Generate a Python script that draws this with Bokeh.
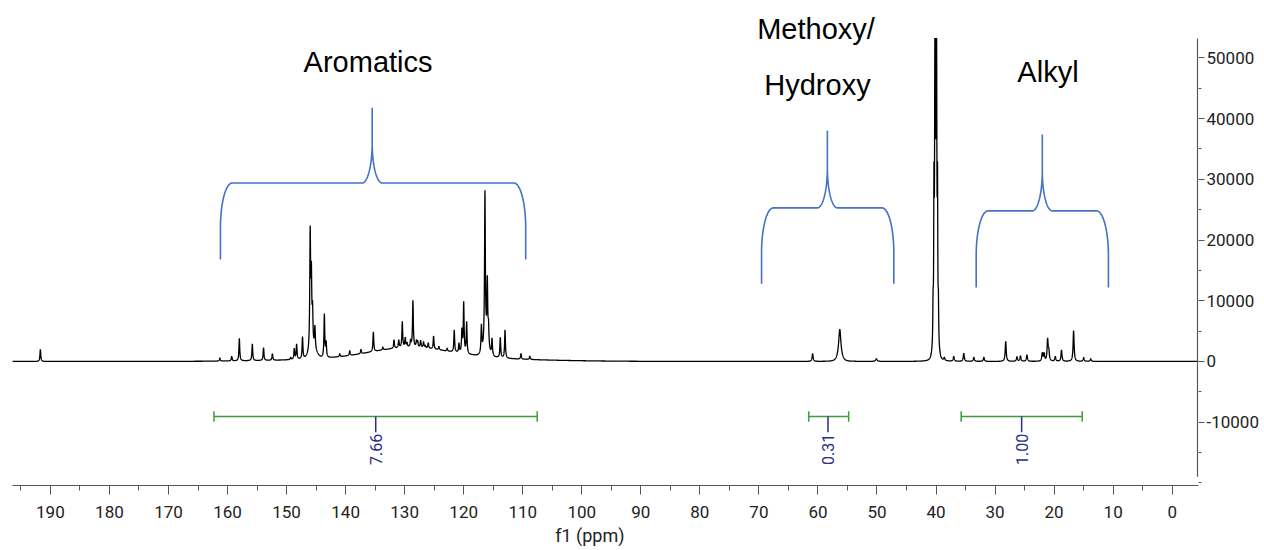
import numpy as np
from bokeh.plotting import figure
from bokeh.models import Range1d, FixedTicker, NumeralTickFormatter, Label
from bokeh.embed import file_html
from bokeh.resources import INLINE

# ---------------- data ----------------
# sharp resonances: chemical shift (ppm), apparent height (a.u.), half width (ppm)
peak_ppm = [191.7, 161.3, 159.3, 158.0, 155.8, 153.9, 152.4, 149.3, 148.7, 148.3,
            147.3, 146.0, 145.8, 145.6, 145.2, 143.6, 143.3, 141.0, 139.3, 137.4,
            135.3, 133.7, 131.8, 131.0, 130.4, 129.9, 129.6, 129.0, 128.6, 128.0,
            127.8, 127.3, 126.8, 126.5, 126.0, 125.1, 124.2, 122.8, 121.6, 120.8,
            120.3, 120.0, 119.5, 117.0, 116.4, 116.2, 116.0, 115.8, 115.2, 113.8,
            113.0, 110.3, 108.8,
            60.9, 56.3, 50.1,
            40.5, 40.35, 40.2, 40.05, 39.9, 39.75, 39.6,
            38.6, 37.0, 35.3, 33.6, 31.9, 28.2, 26.3, 25.7, 24.6, 22.0, 21.7,
            21.1, 20.9, 19.8, 18.75, 16.7, 15.0, 13.8]
peak_height = [2000, 600, 870, 3800, 2900, 2300, 1300, 700, 2200, 2900,
               4100, 22400, 16600, 10000, 6000, 7900, 3500, 1300, 1800, 2000,
               4900, 2400, 3600, 3600, 6600, 4000, 3200, 3700, 10100, 3600,
               3500, 3500, 3300, 2700, 3100, 4200, 2500, 2200, 5200, 3100,
               5600, 9900, 6600, 6200, 28200, 8000, 14200, 7000, 3900, 4000,
               5200, 1300, 900,
               1300, 5300, 450,
               12000, 33000, 53300, 53300, 53300, 33000, 12000,
               700, 850, 1350, 700, 700, 3300, 800, 950, 1100, 1500, 1500,
               3900, 2300, 850, 1900, 5100, 650, 450]
peak_width = [0.08] * 53 + [0.10, 0.22, 0.15] + [0.05] * 7 + [0.10] * 18

# broad components (Gaussian): centre (ppm), height, sigma (ppm)
broad_ppm = [129.0, 128.0, 145.5, 116.2, 56.3, 40.05, 40.05]
broad_height = [1600, 700, 1500, 1500, 600, 4200, 9000]
broad_sigma = [6.5, 15.0, 0.6, 0.5, 0.4, 0.35, 0.16]

# integrals: start, end, centre (ppm), value label
integral_start = [162.3, 61.55, 35.74]
integral_end = [107.55, 54.8, 15.24]
integral_mid = [134.9, 58.3, 25.5]
integral_label = ["7.66", "0.31", "1.00"]

# region braces: left end, right end, tip (ppm); base, shoulder, tip level
brace_left = [161.2, 69.55, 33.2]
brace_right = [109.5, 47.15, 10.8]
brace_tip = [135.5, 58.4, 22.0]
brace_base = [16800, 12800, 12200]
brace_mid = [29400, 25300, 24800]
brace_top = [41800, 38000, 37400]

# region titles
title_text = ["Aromatics", "Methoxy/", "Hydroxy", "Alkyl"]
title_ppm = [136.2, 60.33, 60.08, 21.04]
title_y = [49250, 54730, 45510, 47720]

x_major = [190, 180, 170, 160, 150, 140, 130, 120, 110, 100, 90, 80, 70, 60, 50, 40, 30, 20, 10, 0]
x_minor = [195, 185, 175, 165, 155, 145, 135, 125, 115, 105, 95, 85, 75, 65, 55, 45, 35, 25, 15, 5]
y_major = [-10000, 0, 10000, 20000, 30000, 40000, 50000]
y_minor = [-20000, -15000, -5000, 5000, 15000, 25000, 35000, 45000]

# ---------------- spectrum construction ----------------
grid = np.arange(-4.5, 196.5, 0.02)
ppm = np.unique(np.concatenate([grid, np.array(peak_ppm)]))[::-1]
c = np.array(peak_ppm)
w = np.array(peak_width)
target = np.array(peak_height, dtype=float)

def lor(x, cc, ww):
    return ww * ww / (ww * ww + (x - cc) ** 2)

def broad(x):
    out = np.zeros_like(x, dtype=float)
    for bc, bh, bs in zip(broad_ppm, broad_height, broad_sigma):
        out += bh * np.exp(-0.5 * ((x - bc) / bs) ** 2)
    return out

# amplitudes chosen so that the drawn curve passes through the read peak heights
M = lor(c[:, None], c[None, :], w[None, :])
base_at_c = broad(c)
amp = target.copy()
for _ in range(200):
    cur = M @ amp + base_at_c
    amp = np.clip(amp + 0.7 * (target - cur), 50, None)

inten = broad(ppm)
for cc, aa, ww in zip(c, amp, w):
    inten += aa * lor(ppm, cc, ww)

FONT = "Roboto, 'DejaVu Sans', sans-serif"
Y_TOP = 59460
Y_BOT = -20430
X_LEFT = 196.42
X_RIGHT = -4.455
AX = "#555555"

p = figure(width=1264, height=550, output_backend="svg", toolbar_location=None,
           x_range=Range1d(X_LEFT, X_RIGHT), y_range=Range1d(Y_BOT, Y_TOP),
           x_axis_location="below", y_axis_location="right",
           min_border_left=12, min_border_right=66, min_border_top=0, min_border_bottom=65)
p.outline_line_color = None
p.grid.visible = False
p.background_fill_color = "white"

p.line(ppm, inten, line_color="black", line_width=1.3)

# x axis
xa = p.xaxis[0]
xa.ticker = FixedTicker(ticks=x_major, minor_ticks=x_minor)
xa.major_tick_out = 9
xa.major_tick_in = 0
xa.minor_tick_out = 5
xa.minor_tick_in = 0
xa.axis_line_color = AX
xa.major_tick_line_color = AX
xa.minor_tick_line_color = AX
xa.major_label_text_font = FONT
xa.major_label_text_font_size = "17px"
xa.major_label_text_color = "#222222"
xa.major_label_standoff = 11
xa.axis_label = "f1 (ppm)" + "\u00a0" * 7
xa.axis_label_text_font = FONT
xa.axis_label_text_font_style = "normal"
xa.axis_label_text_font_size = "18px"
xa.axis_label_text_color = "#222222"
xa.axis_label_standoff = 4

# y axis (line drawn separately so that it stops below the top of the window)
ya = p.yaxis[0]
ya.ticker = FixedTicker(ticks=y_major, minor_ticks=y_minor)
ya.formatter = NumeralTickFormatter(format="0")
ya.major_tick_out = 6
ya.major_tick_in = 0
ya.minor_tick_out = 3
ya.minor_tick_in = 0
ya.axis_line_color = None
ya.major_tick_line_color = AX
ya.minor_tick_line_color = AX
ya.major_label_text_font = FONT
ya.major_label_text_font_size = "17px"
ya.major_label_text_color = "#222222"
ya.major_label_standoff = 2
p.segment(x0=[-4.29], y0=[-19000], x1=[-4.29], y1=[53200], line_color=AX, line_width=1.2)

# integrals
cap = 850
green = "#3f9d3f"
navy = "#2a2f86"
for s, e, m, lab in zip(integral_start, integral_end, integral_mid, integral_label):
    yv = -9060
    p.line([s, e], [yv, yv], line_color=green, line_width=1.5)
    p.line([s, s], [yv - cap, yv + cap], line_color=green, line_width=1.5)
    p.line([e, e], [yv - cap, yv + cap], line_color=green, line_width=1.5)
    p.line([m, m], [yv, -11640], line_color=navy, line_width=1.5)
    p.add_layout(Label(x=m, y=-11900, text=lab, angle=np.pi / 2, text_align="right",
                       text_baseline="middle", text_font=FONT,
                       text_font_size="16px", text_color=navy))

# braces
def brace_path(xl, xr, xt, yb, ym, yt, rxc=2.0, ryc=7400, rxt=1.7, ryt=6600, n=40):
    ul, ur, ut = -xl, -xr, -xt
    us, ys = [ul], [yb]
    th = np.linspace(np.pi, np.pi / 2, n)
    us += list(ul + rxc + rxc * np.cos(th)); ys += list(ym - ryc + ryc * np.sin(th))
    th = np.linspace(-np.pi / 2, 0, n)
    us += list(ut - rxt + rxt * np.cos(th)); ys += list(ym + ryt + ryt * np.sin(th))
    us += [ut]; ys += [yt]
    th = np.linspace(np.pi, 1.5 * np.pi, n)
    us += list(ut + rxt + rxt * np.cos(th)); ys += list(ym + ryt + ryt * np.sin(th))
    th = np.linspace(np.pi / 2, 0, n)
    us += list(ur - rxc + rxc * np.cos(th)); ys += list(ym - ryc + ryc * np.sin(th))
    us += [ur]; ys += [yb]
    return [-u for u in us], ys

for xl, xr, xt, yb, ym, yt in zip(brace_left, brace_right, brace_tip, brace_base, brace_mid, brace_top):
    bx, by = brace_path(xl, xr, xt, yb, ym, yt)
    p.line(bx, by, line_color="#4472C4", line_width=1.6)

for t, xx, yy in zip(title_text, title_ppm, title_y):
    p.add_layout(Label(x=xx, y=yy, text=t, text_align="center", text_baseline="alphabetic",
                       text_font="'Liberation Sans', Arial, sans-serif",
                       text_font_size="29px", text_color="black"))

open("out.html", "w").write(file_html(p, INLINE))
